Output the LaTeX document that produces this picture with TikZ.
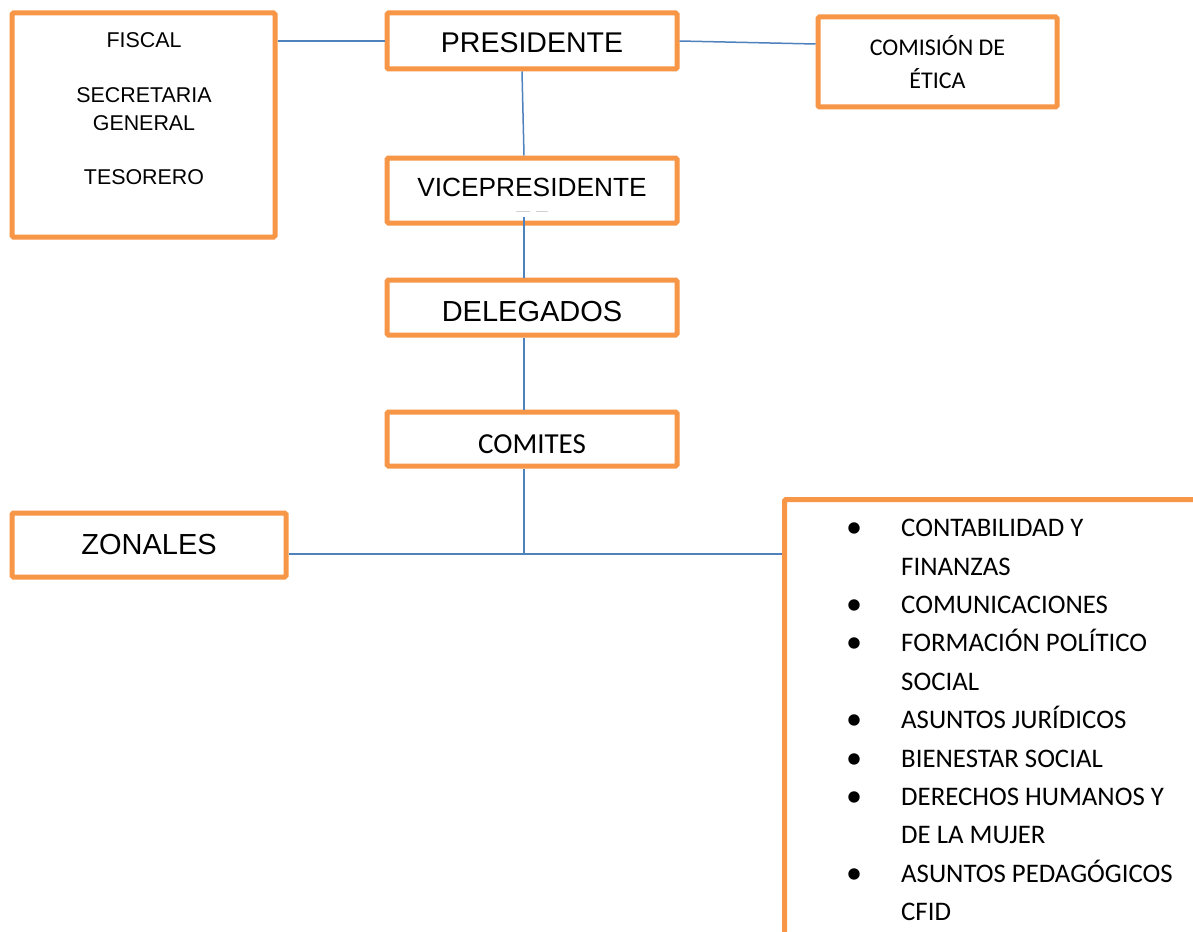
\documentclass[tikz,border=0pt]{standalone}
\usepackage{fontspec}
\setmainfont{Liberation Sans}
\newfontfamily\calib{Carlito}
\definecolor{orng}{HTML}{F79646}
\definecolor{blu}{HTML}{4F81BD}
\newcommand\mybul{\llap{\raisebox{-1pt}{\scalebox{1.2}{•}}\hspace{39pt}}}
\begin{document}
\begin{tikzpicture}[x=1pt,y=-1pt,
  box/.style={draw=orng, line width=5pt, rounded corners=1.5pt, inner sep=0pt, fill=white, align=center},
  link/.style={draw=blu, line width=1.5pt}]
\useasboundingbox[fill=white] (0,0) rectangle (1193,931);

% boxes
\node[box, minimum width=263, minimum height=224] (fisc) at (143.5,125) {};
\node[font=\fontsize{21.4}{27.4}\selectfont, align=center, inner sep=0pt] (fisctext) at (144,109)
  {FISCAL\\[27.4pt]SECRETARIA\\GENERAL\\[27.4pt]TESORERO};
\node[box, minimum width=290, minimum height=56, font=\fontsize{28.5}{34}\selectfont, text height=23pt, text depth=0pt] (pres) at (532,41) {PRESIDENTE};
\node[box, minimum width=290, minimum height=65, font=\fontsize{26.3}{32}\selectfont, text depth=6pt] (vice) at (532,190.5) {VICEPRESIDENTE};
\node[box, minimum width=290, minimum height=55, font=\fontsize{29}{34}\selectfont, text height=27pt, text depth=0pt] (deleg) at (532,307.5) {DELEGADOS};
\node[box, minimum width=290, minimum height=54, font=\calib\fontsize{29}{34}\selectfont, text height=28pt, text depth=0pt] (comites) at (532,439) {COMITES};
\node[box, minimum width=274, minimum height=64, font=\fontsize{29}{34}\selectfont] (zonales) at (149,545) {ZONALES};
\node[box, minimum width=239, minimum height=90, font=\calib\fontsize{24}{33}\selectfont] (etica) at (937.5,62) {COMISIÓN DE\\ÉTICA};
\node[box, anchor=north west, minimum width=460, minimum height=480] (listbox) at (782,497) {};
\node[anchor=north west, inner sep=0pt, align=left, font=\calib\fontsize{26.8}{38.4}\selectfont] (items) at (901,519)
  {\mybul CONTABILIDAD Y\\FINANZAS\\
   \mybul COMUNICACIONES\\
   \mybul FORMACIÓN POLÍTICO\\SOCIAL\\
   \mybul ASUNTOS JURÍDICOS\\
   \mybul BIENESTAR SOCIAL\\
   \mybul DERECHOS HUMANOS Y\\DE LA MUJER\\
   \mybul ASUNTOS PEDAGÓGICOS\\CFID};

% faint marks under VICEPRESIDENTE
\draw[gray!35, line width=1pt] (516,211) -- (530,211) (536,211) -- (548,211);

% connectors
\coordinate (junc) at (524,554);
\draw[link] (fisc.east |- pres.west) -- (pres.west);
\draw[link] (pres.east) -- ([yshift=-3pt]pres.east -| etica.west);
\draw[link] ([xshift=-10pt]pres.south) -- ([xshift=-8pt]vice.north);
\draw[link] ([xshift=-8pt,yshift=9pt]vice.south) -- ([xshift=-8pt]deleg.north);
\draw[link] ([xshift=-8pt]deleg.south) -- ([xshift=-8pt]comites.north);
\draw[link] ([xshift=-8pt]comites.south) -- (junc);
\draw[link] (zonales.east |- junc) -- (junc -| listbox.west);
\end{tikzpicture}
\end{document}
